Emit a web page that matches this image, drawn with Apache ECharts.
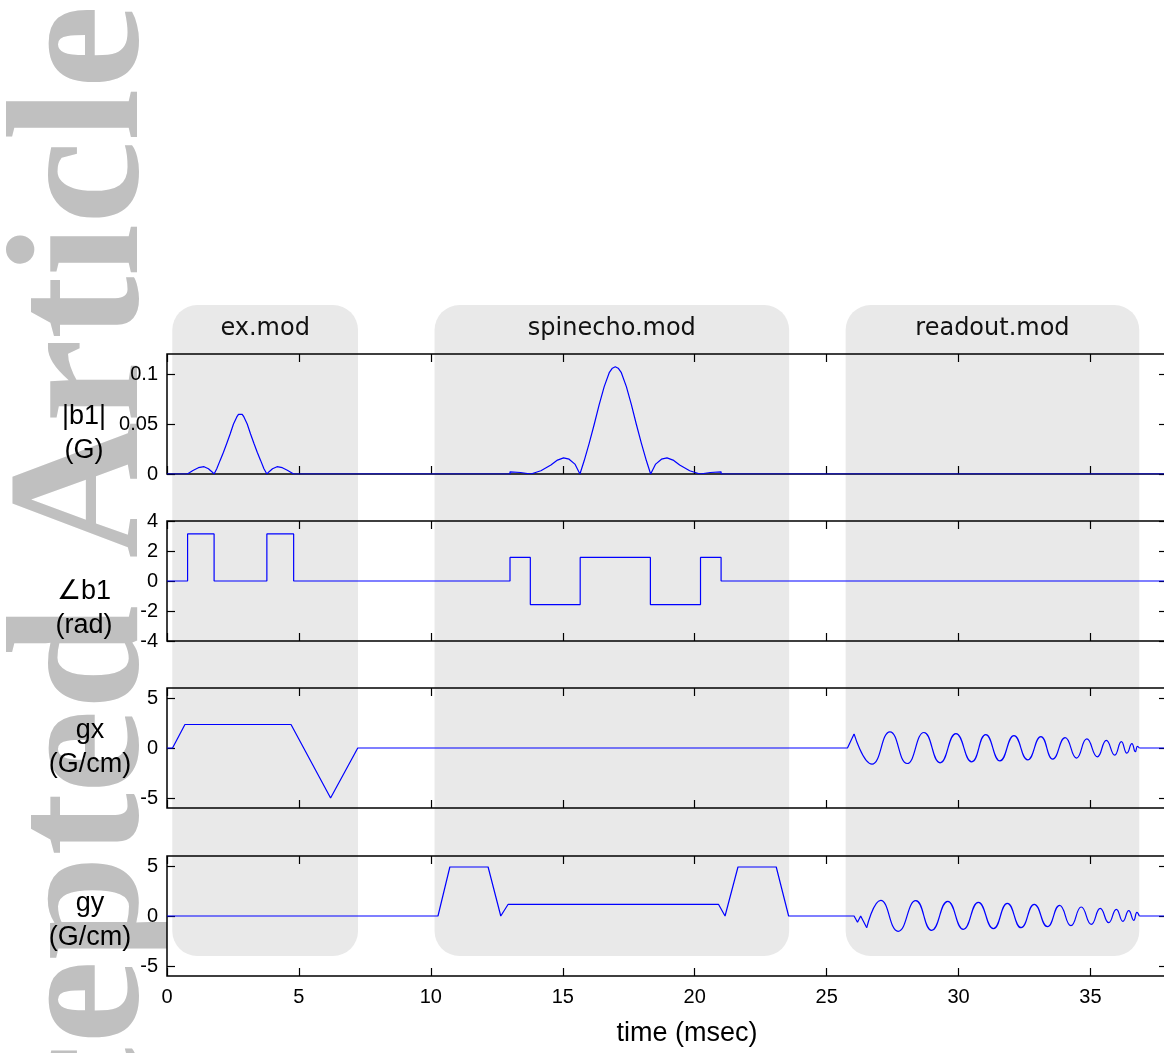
<!DOCTYPE html>
<html><head><meta charset="utf-8">
<script src="https://cdn.jsdelivr.net/npm/echarts@6/dist/echarts.min.js"></script>
<style>html,body{margin:0;padding:0;background:#fff;}#c{width:1164px;height:1053px;}</style>
</head><body><div id="c"></div><script>
// ---------------- data ----------------
const X_MAX = 37.9;
const xTicks = [0, 5, 10, 15, 20, 25, 30, 35];
const xName = 'time (msec)';
const moduleNames = ['ex.mod', 'spinecho.mod', 'readout.mod'];
const moduleStart = [0.2, 10.14, 25.72];
const moduleEnd = [7.24, 23.58, 36.85];
const panelNames = ['|b1|\n(G)', '\u2220b1\n(rad)', 'gx\n(G/cm)', 'gy\n(G/cm)'];
const yMin = [0, -4, -6, -6];
const yMax = [0.12, 4, 6, 6];
const yTicks = [[0, 0.05, 0.1], [-4, -2, 0, 2, 4], [-5, 0, 5], [-5, 0, 5]];
const watermark = 'Accepted Article';

// |b1| (G)
const b1Mag = [[0,0],[0.77,0],[1.0,0.0037],[1.19,0.0063],[1.405,0.0073],[1.57,0.0053],[1.7,0.0023],[1.785,0],
 [1.886,0.0053],[2.013,0.0136],[2.14,0.0218],[2.267,0.0307],[2.393,0.040],[2.52,0.050],[2.645,0.0571],[2.71,0.0597],[2.78,0.0608],[2.85,0.0597],[2.915,0.0571],[3.04,0.050],[3.167,0.040],[3.293,0.0307],[3.42,0.0218],[3.547,0.0136],[3.674,0.0053],[3.785,0],
 [3.87,0.0023],[4.0,0.0053],[4.17,0.0073],[4.37,0.0063],[4.56,0.0037],[4.80,0],
 [13.0,0],[13.0,0.0022],[13.4,0.0015],[13.79,0],[14.17,0.0033],[14.55,0.0089],[14.8,0.0139],[15.03,0.0161],[15.24,0.0148],[15.46,0.0099],[15.65,0],
 [15.81,0.0132],[16.0,0.0307],[16.19,0.0495],[16.38,0.0693],[16.57,0.0874],[16.76,0.1013],[16.88,0.1058],[16.99,0.1072],[17.1,0.1058],[17.22,0.1013],[17.41,0.0874],[17.6,0.0693],[17.79,0.0495],[17.98,0.0307],[18.17,0.0132],[18.33,0],
 [18.52,0.0099],[18.74,0.0148],[18.95,0.0161],[19.18,0.0139],[19.43,0.0089],[19.81,0.0033],[20.2,0],[20.59,0.0015],[21.0,0.0022],[21.0,0],[37.9,0]];
// angle b1 (rad)
const b1Phase = [[0,0],[0.78,0],[0.78,3.14],[1.785,3.14],[1.785,0],[3.785,0],[3.785,3.14],[4.80,3.14],[4.80,0],
 [13.0,0],[13.0,1.57],[13.77,1.57],[13.77,-1.57],[15.66,-1.57],[15.66,1.57],[18.32,1.57],[18.32,-1.57],[20.22,-1.57],[20.22,1.57],[21.0,1.57],[21.0,0],[37.9,0]];
// gx (G/cm)
const gxWave = [[0,0],[0.21,0],[0.68,2.35],[4.70,2.35],[6.2,-5.0],[7.23,0],[25.79,0],[26.04,1.41]];
const gxReadout = [[26.04,1.41],[26.72,-1.62],[27.40,1.62],[28.05,-1.55],[28.69,1.55],[29.30,-1.48],[29.90,1.44],[30.50,-1.38],[31.03,1.34],[31.57,-1.28],[32.10,1.24],[32.62,-1.18],[33.12,1.14],[33.57,-1.11],[34.04,1.04],[34.47,-1.01],[34.86,0.91],[35.26,-0.88],[35.60,0.77],[35.92,-0.71],[36.17,0.64],[36.38,-0.51],[36.57,0.43],[36.70,-0.37],[36.78,0.16],[36.85,0]];
const gxTail = [[36.85,0],[37.9,0]];
// gy (G/cm)
const gyWave = [[0,0],[10.27,0],[10.72,4.9],[12.17,4.9],[12.65,0],[12.93,1.17],[20.9,1.17],[21.15,0],[21.64,4.9],[23.09,4.9],[23.56,0],[26.04,0],[26.17,-0.63],[26.29,0],[26.52,-1.17]];
const gyReadout = [[26.52,-1.17],[27.05,1.57],[27.71,-1.53],[28.38,1.53],[28.98,-1.43],[29.59,1.47],[30.18,-1.33],[30.75,1.37],[31.32,-1.27],[31.85,1.27],[32.37,-1.17],[32.87,1.17],[33.37,-1.07],[33.83,1.07],[34.26,-0.97],[34.65,0.90],[35.03,-0.83],[35.37,0.77],[35.69,-0.67],[35.98,0.67],[36.23,-0.53],[36.45,0.53],[36.64,-0.43],[36.76,0.37],[36.85,0]];
const gyTail = [[36.85,0],[37.9,0]];

// ---------------- layout / style ----------------
const GL = 167, GW = 1000, GH = 120;
const gridTops = [354, 521, 688, 856];
const nameCenters = [[84, 434], [84, 609], [90, 748], [90, 921]];
const modTop = 305, modBottom = 956, modRadius = 25, modTitleY = 329;
const SANS = '"Liberation Sans", Arial, Helvetica, sans-serif';
const BLUE = '#0000ff';

const chart = echarts.init(document.getElementById('c'), null, {renderer: 'canvas'});

const grids = [], xAxes = [], yAxes = [];
gridTops.forEach((top, i) => {
  grids.push({left: GL, top: top, width: GW, height: GH, show: true, borderColor: '#000', borderWidth: 1.5,
    backgroundColor: 'transparent', containLabel: false, outerBoundsMode: 'none'});
  const last = i === gridTops.length - 1;
  const xa = pos => ({type: 'value', gridIndex: i, position: pos, min: 0, max: X_MAX,
    axisLine: {show: false, onZero: false},
    axisTick: {show: true, inside: true, length: 8, customValues: xTicks, lineStyle: {color: '#000', width: 1.2}},
    axisLabel: {show: pos === 'bottom' && last, customValues: xTicks, margin: 11, color: '#000', fontSize: 20, fontFamily: SANS},
    splitLine: {show: false}});
  xAxes.push(xa('bottom'), xa('top'));
  const ya = pos => ({type: 'value', gridIndex: i, position: pos, min: yMin[i], max: yMax[i],
    axisLine: {show: false, onZero: false},
    axisTick: {show: true, inside: true, length: 8, customValues: yTicks[i], lineStyle: {color: '#000', width: 1.2}},
    axisLabel: {show: pos === 'left', customValues: yTicks[i], margin: 9, color: '#000', fontSize: 20, fontFamily: SANS},
    splitLine: {show: false}});
  yAxes.push(ya('left'), ya('right'));
});

const mkSeries = (data, gi, smooth) => ({type: 'line', data: data, xAxisIndex: 2 * gi, yAxisIndex: 2 * gi,
  showSymbol: false, symbol: 'none', smooth: smooth ? 0.5 : false, z: 5,
  lineStyle: {color: BLUE, width: 1.2}, emphasis: {disabled: true}, silent: true});

chart.setOption({
  animation: false,
  backgroundColor: '#fff',
  grid: grids, xAxis: xAxes, yAxis: yAxes,
  series: [
    mkSeries(b1Mag, 0), mkSeries(b1Phase, 1),
    mkSeries(gxWave, 2), mkSeries(gxReadout, 2, true), mkSeries(gxTail, 2),
    mkSeries(gyWave, 3), mkSeries(gyReadout, 3, true), mkSeries(gyTail, 3)
  ]
});

// decorations placed through the x scale
const gfx = [];
gfx.push({type: 'text', z: -30, x: 88, y: 5, rotation: Math.PI / 2,
  style: {text: watermark, fill: '#c0c0c0', font: 'bold 188px "Liberation Serif", "Times New Roman", serif', align: 'right', verticalAlign: 'middle'}});
gfx.push({type: 'rect', z: -20, shape: {x: GL, y: 0, width: 1164 - GL, height: 1053}, style: {fill: '#fff'}});
moduleNames.forEach((nm, k) => {
  const x0 = chart.convertToPixel({xAxisIndex: 0}, moduleStart[k]);
  const x1 = chart.convertToPixel({xAxisIndex: 0}, moduleEnd[k]);
  gfx.push({type: 'rect', z: -10, shape: {x: x0, y: modTop, width: x1 - x0, height: modBottom - modTop, r: modRadius},
    style: {fill: '#e9e9e9'}});
  gfx.push({type: 'text', z: 10, x: (x0 + x1) / 2, y: modTitleY,
    style: {text: nm, fill: '#111', font: 'normal 24px "DejaVu Sans", sans-serif', align: 'center', verticalAlign: 'middle'}});
});
panelNames.forEach((nm, i) => {
  gfx.push({type: 'text', z: 10, x: nameCenters[i][0], y: nameCenters[i][1],
    style: {text: nm, fill: '#000', font: 'normal 27px ' + SANS, align: 'center', verticalAlign: 'middle', lineHeight: 34}});
});
gfx.push({type: 'text', z: 10, x: 687, y: 1034,
  style: {text: xName, fill: '#000', font: 'normal 27px ' + SANS, align: 'center', verticalAlign: 'middle'}});
chart.setOption({graphic: gfx});
</script></body></html>
